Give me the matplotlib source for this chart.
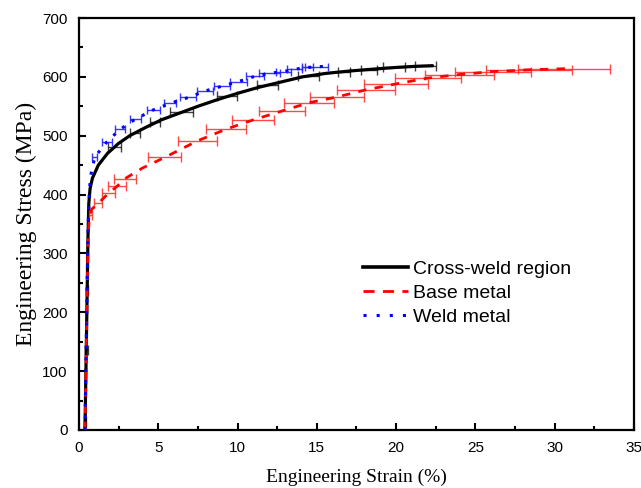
import matplotlib
matplotlib.use("Agg")
import matplotlib.pyplot as plt
from matplotlib.ticker import MultipleLocator
from matplotlib.lines import Line2D

# ---------------- data ----------------
cross_strain = [0.38, 0.45, 0.52, 0.57, 0.62, 0.70, 0.85, 1.22, 1.80, 2.50, 3.20, 4.20, 5.20,
                6.30, 7.50, 8.70, 10.0, 11.3, 12.7, 14.1, 15.6, 17.1, 18.5, 20.0, 21.3, 22.3]
cross_stress = [0, 120, 240, 330, 385, 410, 428, 450, 470, 487, 500, 514, 527,
                538, 550, 561, 572, 582, 591, 600, 606, 610, 613, 616, 618, 619]
cross_bar_x = [0.39, 0.46, 0.52, 2.25, 3.52, 4.78, 6.47, 9.31, 11.89, 14.47, 16.73, 18.3, 19.88, 21.85]
cross_bar_y = [14, 136, 238, 480, 505, 523, 540, 567, 587, 602, 609, 612, 616, 618]
cross_bar_err = [0.08, 0.08, 0.08, 0.42, 0.32, 0.32, 0.73, 0.63, 0.69, 0.64, 0.38, 0.5, 0.68, 0.65]

base_strain = [0.38, 0.45, 0.52, 0.58, 0.65, 0.80, 1.22, 1.85, 2.40, 2.90, 4.00, 5.40, 7.45,
               9.27, 11.0, 12.8, 14.5, 16.3, 18.1, 20.0, 22.0, 24.0, 26.1, 28.4, 30.8]
base_stress = [0, 120, 240, 330, 360, 375, 385, 402, 414, 427, 445, 463, 491,
               511, 527, 542, 556, 566, 578, 588, 598, 604, 609, 612, 614]
base_bar_x = [0.75, 1.22, 1.85, 2.40, 2.90, 5.40, 7.45, 9.27, 11.0, 12.8, 14.5, 16.3,
              18.1, 20.0, 22.0, 24.0, 26.1, 28.4, 30.6]
base_bar_y = [365, 385, 402, 414, 427, 463, 491, 511, 527, 542, 556, 566,
              578, 588, 598, 604, 609, 612, 614]
base_bar_err = [0.1, 0.25, 0.42, 0.58, 0.7, 1.05, 1.23, 1.25, 1.33, 1.47, 1.57, 1.7,
                1.8, 2.0, 2.1, 2.2, 2.4, 2.7, 2.9]

weld_strain = [0.38, 0.45, 0.52, 0.58, 0.65, 0.72, 1.00, 1.78, 2.60, 3.55, 4.70, 5.75, 6.90,
               7.95, 9.00, 10.05, 11.1, 12.0, 12.9, 13.6, 14.4, 15.0, 15.5]
weld_stress = [0, 130, 260, 350, 400, 430, 464, 490, 511, 528, 544, 555, 565,
               576, 584, 592, 601, 606, 609, 613, 616, 617, 618]
weld_bar_x = [1.00, 1.78, 2.60, 3.55, 4.70, 5.75, 6.90, 7.95, 9.00, 10.05, 11.1, 12.0,
              12.9, 13.6, 14.4, 15.0]
weld_bar_y = [464, 490, 511, 528, 544, 555, 565, 576, 584, 592, 601, 606, 609, 613, 616, 617]
weld_bar_err = [0.15, 0.3, 0.3, 0.35, 0.4, 0.37, 0.5, 0.48, 0.5, 0.52, 0.55, 0.65,
                0.47, 0.45, 0.35, 0.72]

labels = ["Cross-weld region", "Base metal", "Weld metal"]

# ---------------- figure ----------------
fig = plt.figure(figsize=(6.41, 4.88), dpi=100)
ax = fig.add_axes([0.1232, 0.1189, 0.8658, 0.8442])

ax.plot(cross_strain, cross_stress, color="black", lw=2.3, zorder=3,
        solid_capstyle="round")
ax.errorbar(cross_bar_x, cross_bar_y, xerr=cross_bar_err, fmt="none",
            ecolor="black", elinewidth=1.0, capsize=3.5, capthick=1.0, zorder=3, alpha=0.75)

ax.errorbar(base_bar_x, base_bar_y, xerr=base_bar_err, fmt="none",
            ecolor="#ff2a2a", elinewidth=1.0, capsize=3.5, capthick=1.0, zorder=4, alpha=0.85)
ax.plot(base_strain, base_stress, color="red", lw=2.0, ls=(0, (3, 3)), zorder=5)

ax.errorbar(weld_bar_x, weld_bar_y, xerr=weld_bar_err, fmt="none",
            ecolor="#2020ff", elinewidth=1.0, capsize=3.0, capthick=1.0, zorder=6, alpha=0.9)
ax.plot(weld_strain, weld_stress, color="blue", lw=2.2, ls=(0, (1, 2.8)), zorder=7)

ax.set_xlim(0, 35)
ax.set_ylim(0, 700)
ax.xaxis.set_major_locator(MultipleLocator(5))
ax.xaxis.set_minor_locator(MultipleLocator(2.5))
ax.yaxis.set_major_locator(MultipleLocator(100))
ax.yaxis.set_minor_locator(MultipleLocator(50))
ax.tick_params(which="both", direction="in", top=False, right=False, width=1.5,
               labelsize=11)
ax.tick_params(axis="x", which="major", pad=8)
ax.tick_params(axis="y", which="major", pad=8)
ax.tick_params(which="major", length=5)
ax.tick_params(which="minor", length=3)
for lab in ax.get_xticklabels() + ax.get_yticklabels():
    lab.set_fontfamily("Liberation Sans")
for s in ax.spines.values():
    s.set_linewidth(1.6)

ax.set_xlabel("Engineering Strain (%)", fontfamily="Liberation Serif", fontsize=14, labelpad=10)
ax.set_ylabel("Engineering Stress (MPa)", fontfamily="Liberation Serif", fontsize=17, labelpad=4)

h1 = Line2D([], [], color="black", lw=2.6)
h2 = Line2D([], [], color="red", lw=2.0, ls=(0, (4, 3)))
h3 = Line2D([], [], color="blue", lw=2.2, ls=(0, (1, 3.3)))
leg = ax.legend([h1, h2, h3], labels, loc="center left", bbox_to_anchor=(0.4985, 0.3325),
                frameon=False, prop={"family": "Liberation Sans", "size": 14},
                handlelength=2.27, handletextpad=0.3, labelspacing=0.33, borderaxespad=0)

fig.savefig("out.png", dpi=100)
